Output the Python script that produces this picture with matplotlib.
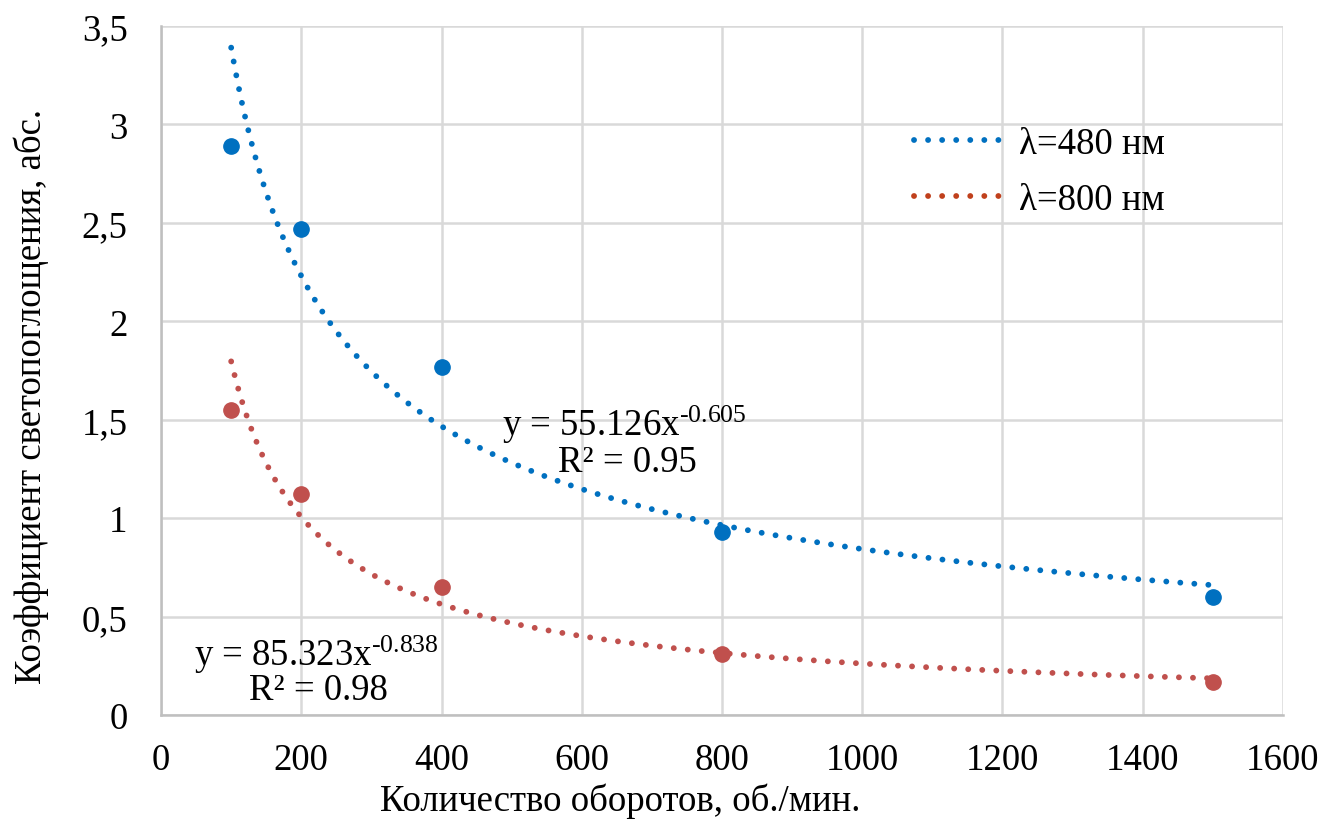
import numpy as np
import matplotlib.pyplot as plt
from matplotlib.lines import Line2D
from matplotlib.ticker import FuncFormatter

plt.rcParams['font.family'] = ['Liberation Serif', 'DejaVu Serif']
plt.rcParams['mathtext.fontset'] = 'custom'
plt.rcParams['mathtext.rm'] = 'Liberation Serif'
plt.rcParams['mathtext.it'] = 'Liberation Serif:italic'

# данные
rpm = [100, 200, 400, 800, 1500]
k_480 = [2.89, 2.47, 1.77, 0.93, 0.60]
k_800 = [1.55, 1.12, 0.65, 0.31, 0.17]

labels = ["λ=480 нм", "λ=800 нм"]
eq_480 = ["y = 55.126x$^{\\text{-0.605}}$", "R² = 0.95"]
eq_800 = ["y = 85.323x$^{\\text{-0.838}}$", "R² = 0.98"]

blue = '#0070C0'
red = '#C0504D'
fs = 26.5
dots = (0, (0.01, 2.4))

fig = plt.figure(figsize=(13.41, 8.28), dpi=100)
ax = fig.add_axes([0.1201, 0.1353, 0.8366, 0.8321])

# степенная линия тренда, как в excel (подгонка в лог. координатах)
x_fit = np.linspace(min(rpm), max(rpm), 300)
for y, c in [(k_480, blue), (k_800, red)]:
    b, a = np.polyfit(np.log(rpm), np.log(y), 1)
    ax.plot(x_fit, np.exp(a) * x_fit**b, color=c, lw=4.2,
            linestyle=dots, dash_capstyle='round', zorder=3)
    ax.plot(rpm, y, 'o', color=c, markersize=11, zorder=4)

ax.set_xlim(0, 1600)
ax.set_ylim(0, 3.5)
ax.set_xticks(np.arange(0, 1601, 200))
ax.set_yticks(np.arange(0, 3.51, 0.5))
ax.yaxis.set_major_formatter(FuncFormatter(lambda v, p: f"{v:g}".replace('.', ',')))
ax.grid(True, color='#D9D9D9', lw=1.8)
ax.set_axisbelow(True)
for s in ['top', 'right']:
    ax.spines[s].set_visible(False)
for s in ['left', 'bottom']:
    ax.spines[s].set_color('#BFBFBF')
    ax.spines[s].set_linewidth(1.8)
ax.tick_params(length=0, labelsize=fs)
ax.tick_params(axis='x', pad=20)
ax.tick_params(axis='y', pad=24)

ax.set_xlabel("Количество оборотов, об./мин.", fontsize=fs)
ax.set_ylabel("Коэффициент светопоглощения, абс.", fontsize=fs)
ax.xaxis.set_label_coords(0.409, -0.098)
ax.yaxis.set_label_coords(-0.100, 0.463)

ax.text(660, 1.48, eq_480[0], fontsize=fs, ha='center', va='center')
ax.text(665, 1.285, eq_480[1], fontsize=fs, ha='center', va='center')
ax.text(222, 0.31, eq_800[0], fontsize=fs, ha='center', va='center')
ax.text(225, 0.13, eq_800[1], fontsize=fs, ha='center', va='center')

handles = [Line2D([], [], color=blue, lw=4.2, linestyle=dots, dash_capstyle='round'),
           Line2D([], [], color='#C0401C', lw=4.2, linestyle=dots, dash_capstyle='round')]
ax.legend(handles, labels, fontsize=fs, frameon=False, handlelength=2.5,
          handletextpad=0.33, labelspacing=0.57,
          loc='upper left', bbox_to_anchor=(0.642, 0.902))

plt.savefig("out.png", dpi=100)
